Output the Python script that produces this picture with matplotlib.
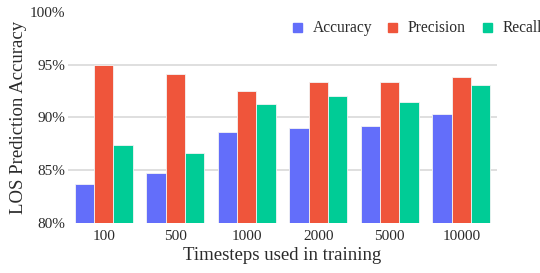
import matplotlib
matplotlib.use("Agg")
import matplotlib.pyplot as plt
import numpy as np
from matplotlib.patches import Rectangle
from matplotlib.ticker import FuncFormatter

timesteps = ["100", "500", "1000", "2000", "5000", "10000"]
accuracy = [83.7, 84.7, 88.6, 89.0, 89.2, 90.3]
precision = [95.0, 94.1, 92.5, 93.3, 93.3, 93.8]
recall = [87.4, 86.6, 91.3, 92.0, 91.5, 93.1]

series = [
    ("Accuracy", accuracy, "#636efa"),
    ("Precision", precision, "#ef553b"),
    ("Recall", recall, "#00cc96"),
]

plt.rcParams["font.family"] = ["Liberation Serif", "DejaVu Serif"]
text_color = "#2a2a2a"

W, H = 540, 273
fig = plt.figure(figsize=(W / 100, H / 100), dpi=100)
ax = fig.add_axes([68 / W, (H - 223) / H, (497 - 68) / W, (223 - 11.7) / H])

x = np.arange(len(timesteps))
bar_w = 0.81 / 3
for i, (name, vals, color) in enumerate(series):
    ax.bar(x + (i - 1) * bar_w, np.array(vals) - 80, bottom=80, width=bar_w,
           color=color, edgecolor="#f4f4f4", linewidth=0.6, zorder=2)

ax.set_xlim(-0.5, len(timesteps) - 0.5)
ax.set_ylim(80, 100)
ax.set_yticks([80, 85, 90, 95, 100])
ax.yaxis.set_major_formatter(FuncFormatter(lambda v, p: f"{v:.0f}%"))
ax.set_xticks(x)
ax.set_xticklabels(timesteps)

for v in [85, 90, 95]:
    ax.axhline(v, color="#dcdcdc", linewidth=1.3, zorder=1)

for s in ax.spines.values():
    s.set_visible(False)
ax.tick_params(axis="y", length=0, labelsize=11, colors=text_color, pad=2)
ax.tick_params(axis="x", length=0, labelsize=11, colors=text_color, pad=5)

ax.set_xlabel("Timesteps used in training", fontsize=13.5, color=text_color, labelpad=3)
ax.set_ylabel("LOS Prediction Accuracy", fontsize=13.5, color=text_color, labelpad=2)

# horizontal legend above the plot, laid out like the original (last label runs to the edge)
leg_y = 1 - 27.5 / H
for k, (name, _, color) in enumerate(series):
    x0 = 293 + 95 * k
    fig.patches.append(Rectangle((x0 / W, leg_y - 4.5 / H), 9 / W, 9 / H,
                                 transform=fig.transFigure, color=color))
    fig.text((x0 + 20) / W, leg_y, name, fontsize=11.2, color=text_color,
             va="center", ha="left")

fig.savefig("out.png", dpi=100)
